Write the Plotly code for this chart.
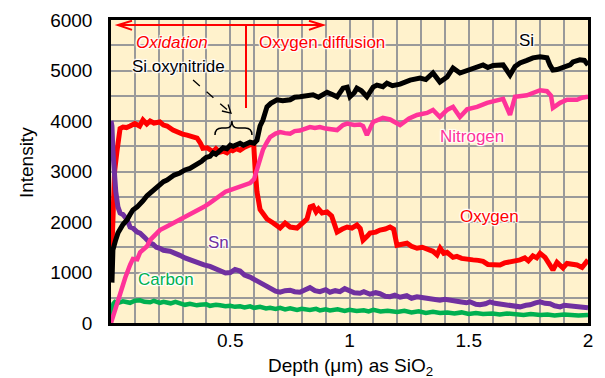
import plotly.graph_objects as go

# ---------------- data ----------------
si_x = [0.004, 0.008, 0.02, 0.029, 0.05, 0.067, 0.08, 0.092, 0.11, 0.122, 0.134, 0.151, 0.164, 0.176, 0.19, 0.205,
        0.22, 0.235, 0.25, 0.265, 0.289, 0.31, 0.331, 0.344, 0.36, 0.38, 0.386, 0.40, 0.415, 0.428, 0.44, 0.457,
        0.47, 0.486, 0.5, 0.512, 0.53, 0.541, 0.555, 0.57, 0.583, 0.6, 0.612, 0.625, 0.637, 0.654, 0.67, 0.696,
        0.72, 0.751, 0.77, 0.792, 0.82, 0.847, 0.87, 0.906, 0.93, 0.948, 0.973, 0.99, 1.002, 1.02, 1.031, 1.05,
        1.073, 1.099, 1.115, 1.14, 1.157, 1.18, 1.212, 1.254, 1.296, 1.32, 1.35, 1.379, 1.409, 1.434, 1.463, 1.49,
        1.518, 1.56, 1.58, 1.602, 1.644, 1.673, 1.694, 1.715, 1.744, 1.769, 1.799, 1.828, 1.841, 1.853, 1.87, 1.895,
        1.925, 1.937, 1.966, 1.985, 2.0]
si_y = [800, 1450, 1650, 1780, 1950, 2040, 2150, 2240, 2300, 2380, 2420, 2520, 2570, 2620, 2700, 2730,
        2800, 2830, 2880, 2930, 2970, 3030, 3060, 3090, 3150, 3200, 3230, 3280, 3300, 3370, 3340, 3420,
        3470, 3450, 3520, 3500, 3540, 3560, 3520, 3560, 3580, 3560, 3620, 3900, 4020, 4280, 4350, 4420,
        4400, 4420, 4470, 4480, 4500, 4520, 4470, 4570, 4520, 4480, 4650, 4670, 4480, 4560, 4650, 4600,
        4480, 4670, 4710, 4680, 4750, 4700, 4730, 4810, 4850, 4820, 4950, 4770, 4870, 5050, 4950, 5000,
        5050, 5110, 5060, 5100, 5110, 4910, 5080, 5150, 5200, 5250, 5270, 5250, 5100, 5010, 5020, 5070,
        5110, 5170, 5210, 5200, 5110]

n_x = [0.0, 0.004, 0.017, 0.038, 0.06, 0.08, 0.092, 0.11, 0.122, 0.151, 0.164, 0.176, 0.205, 0.23, 0.247, 0.27,
       0.289, 0.31, 0.331, 0.35, 0.373, 0.39, 0.415, 0.44, 0.457, 0.48, 0.499, 0.52, 0.541, 0.56, 0.583, 0.6,
       0.612, 0.625, 0.637, 0.654, 0.667, 0.69, 0.709, 0.73, 0.751, 0.77, 0.792, 0.822, 0.834, 0.855, 0.876, 0.9,
       0.918, 0.948, 0.973, 0.99, 1.02, 1.044, 1.057, 1.073, 1.099, 1.14, 1.17, 1.212, 1.25, 1.283, 1.325, 1.35,
       1.379, 1.409, 1.434, 1.463, 1.493, 1.535, 1.577, 1.618, 1.644, 1.673, 1.694, 1.744, 1.799, 1.828, 1.845,
       1.853, 1.883, 1.912, 1.954, 1.975, 2.0]
n_y = [0, 60, 300, 620, 900, 1150, 1270, 1260, 1400, 1520, 1640, 1700, 1840, 1900, 1940, 2000,
       2040, 2100, 2140, 2200, 2240, 2300, 2380, 2460, 2530, 2600, 2630, 2660, 2690, 2720, 2770, 2850,
       3030, 3250, 3430, 3580, 3680, 3750, 3780, 3760, 3750, 3800, 3810, 3860, 3880, 3860, 3880, 3850,
       3840, 3820, 3920, 3950, 3920, 3930, 3900, 3720, 3980, 4060, 4030, 3920, 4050, 4120, 4160, 4220,
       4080, 4220, 4280, 4080, 4230, 4280, 4360, 4420, 4440, 4120, 4480, 4510, 4610, 4590, 4500,
       4260, 4360, 4420, 4420, 4460, 4480]

o_x = [0.004, 0.008, 0.015, 0.025, 0.038, 0.05, 0.065, 0.08, 0.1, 0.12, 0.134, 0.15, 0.164, 0.18, 0.205, 0.22,
       0.235, 0.26, 0.277, 0.3, 0.319, 0.34, 0.361, 0.375, 0.385, 0.403, 0.415, 0.428, 0.44, 0.455, 0.47, 0.486,
       0.5, 0.51, 0.525, 0.541, 0.56, 0.583, 0.598, 0.605, 0.612, 0.625, 0.64, 0.654, 0.68, 0.709, 0.73, 0.751,
       0.78, 0.8, 0.822, 0.835, 0.847, 0.86, 0.87, 0.885, 0.906, 0.925, 0.948, 0.97, 0.99, 1.01, 1.031, 1.045,
       1.057, 1.075, 1.086, 1.11, 1.128, 1.15, 1.17, 1.185, 1.199, 1.22, 1.241, 1.26, 1.283, 1.305, 1.325, 1.35,
       1.367, 1.38, 1.395, 1.409, 1.434, 1.45, 1.47, 1.49, 1.518, 1.54, 1.56, 1.58, 1.6, 1.631, 1.65, 1.673,
       1.695, 1.715, 1.735, 1.75, 1.769, 1.785, 1.799, 1.82, 1.84, 1.853, 1.87, 1.885, 1.895, 1.912, 1.93, 1.954,
       1.975, 2.0]
o_y = [1480, 2500, 3000, 3400, 3850, 3880, 3870, 3900, 3950, 3900, 4020, 3940, 4000, 3960, 3980, 3920,
       3900, 3820, 3780, 3740, 3720, 3690, 3660, 3560, 3460, 3470, 3420, 3390, 3450, 3380, 3400, 3370,
       3430, 3410, 3450, 3420, 3480, 3520, 3560, 3000, 2600, 2250, 2150, 2060, 1980, 1880, 1980, 1900,
       1880, 1960, 2060, 2300, 2320, 2200, 2260, 2180, 2200, 2120, 1800, 1860, 1900, 1880, 1940, 1870,
       1640, 1720, 1780, 1800, 1840, 1860, 1900, 1860, 1540, 1560, 1580, 1520, 1480, 1500, 1470, 1420,
       1350, 1480, 1380, 1400, 1300, 1320, 1280, 1260, 1250, 1240, 1220, 1160, 1150, 1150, 1190, 1210,
       1240, 1250, 1290, 1230, 1330, 1290, 1380, 1300, 1150, 1050, 1200, 1150, 1090, 1180, 1160, 1150,
       1100, 1250]

sn_x = [0.0, 0.004, 0.008, 0.013, 0.02, 0.029, 0.038, 0.05, 0.067, 0.08, 0.092, 0.11, 0.122, 0.14, 0.151, 0.164,
        0.176, 0.19, 0.205, 0.22, 0.247, 0.27, 0.289, 0.31, 0.331, 0.35, 0.373, 0.39, 0.415, 0.43, 0.46, 0.48,
        0.5, 0.52, 0.541, 0.56, 0.583, 0.6, 0.625, 0.645, 0.667, 0.69, 0.709, 0.73, 0.751, 0.77, 0.792, 0.81,
        0.834, 0.855, 0.876, 0.9, 0.918, 0.94, 0.96, 0.98, 1.002, 1.02, 1.044, 1.06, 1.086, 1.11, 1.128, 1.15,
        1.17, 1.19, 1.212, 1.24, 1.26, 1.283, 1.31, 1.35, 1.379, 1.40, 1.421, 1.44, 1.463, 1.49, 1.505, 1.53,
        1.547, 1.57, 1.589, 1.61, 1.631, 1.65, 1.673, 1.69, 1.715, 1.74, 1.757, 1.78, 1.799, 1.82, 1.841, 1.86,
        1.883, 1.9, 1.925, 1.95, 1.966, 1.985, 2.0]
sn_y = [4000, 3900, 3400, 2900, 2600, 2300, 2180, 2150, 2050, 1900, 1880, 1800, 1780, 1700, 1640, 1580,
        1560, 1500, 1480, 1440, 1420, 1390, 1340, 1290, 1250, 1210, 1180, 1150, 1120, 1090, 1050, 990,
        1000, 1060, 1030, 950, 910, 860, 790, 730, 690, 630, 610, 640, 650, 620, 610, 650,
        700, 640, 620, 660, 610, 640, 620, 680, 630, 600, 590, 620, 570, 600, 580, 530,
        520, 550, 510, 540, 490, 520, 500, 480, 450, 470, 450, 420, 420, 400, 420, 370,
        360, 380, 420, 390, 380, 350, 360, 330, 320, 350, 360, 400, 420, 390, 380, 340,
        320, 350, 340, 310, 320, 300, 300]

c_x = [0.0, 0.004, 0.01, 0.017, 0.03, 0.05, 0.067, 0.08, 0.1, 0.122, 0.14, 0.164, 0.18, 0.205, 0.22, 0.25,
       0.27, 0.289, 0.31, 0.331, 0.36, 0.373, 0.40, 0.415, 0.44, 0.457, 0.48, 0.5, 0.52, 0.541, 0.56, 0.583,
       0.6, 0.625, 0.65, 0.667, 0.69, 0.709, 0.73, 0.751, 0.78, 0.8, 0.834, 0.86, 0.876, 0.9, 0.918, 0.95,
       0.98, 1.0, 1.03, 1.06, 1.08, 1.1, 1.13, 1.16, 1.2, 1.23, 1.26, 1.29, 1.32, 1.35, 1.38, 1.41,
       1.44, 1.47, 1.5, 1.53, 1.56, 1.6, 1.63, 1.66, 1.7, 1.73, 1.76, 1.8, 1.83, 1.86, 1.9, 1.93,
       1.96, 2.0]
c_y = [100, 200, 380, 420, 400, 430, 420, 400, 440, 450, 420, 410, 440, 400, 420, 390,
       420, 380, 360, 380, 350, 360, 370, 340, 360, 350, 330, 340, 320, 330, 310, 330,
       300, 320, 290, 300, 280, 300, 270, 290, 260, 280, 260, 280, 250, 270, 250, 270,
       240, 260, 240, 250, 230, 260, 230, 240, 220, 240, 210, 230, 200, 220, 200, 210,
       190, 210, 180, 200, 180, 190, 170, 190, 170, 160, 180, 160, 170, 150, 170, 160,
       150, 160]

x_tickvals = [0.5, 1, 1.5, 2]
x_ticktext = ["0.5", "1", "1.5", "2"]
y_tickvals = [0, 1000, 2000, 3000, 4000, 5000, 6000]

# ---------------- styles ----------------
FONT = "Liberation Sans, Arial, sans-serif"
HALO = "1px 1px 1px white, -1px -1px 1px white, 1px -1px 1px white, -1px 1px 1px white, 0px 0px 3px white"
GRID = "#9a9a9a"

# the page body has an 8px margin, so the figure is drawn 8px smaller/offset
W, H = 597, 370
L, R, T, B = 103, 17, 12, 55

fig = go.Figure()
fig.add_trace(go.Scatter(x=o_x, y=o_y, mode="lines", line=dict(color="#FF0000", width=5), name="Oxygen"))
fig.add_trace(go.Scatter(x=c_x, y=c_y, mode="lines", line=dict(color="#00B050", width=4.5), name="Carbon"))
fig.add_trace(go.Scatter(x=sn_x, y=sn_y, mode="lines", line=dict(color="#7030A0", width=5), name="Sn"))
fig.add_trace(go.Scatter(x=n_x, y=n_y, mode="lines", line=dict(color="#FF3399", width=4.5), name="Nitrogen"))
fig.add_trace(go.Scatter(x=si_x, y=si_y, mode="lines", line=dict(color="#000000", width=5), name="Si"))


def label(text, x, y, color, size=17, italic=False):
    fig.add_annotation(x=x, y=y, xref="x", yref="y", text=text, showarrow=False,
                       xanchor="center", yanchor="middle",
                       font=dict(family=FONT, size=size, color=color, shadow=HALO,
                                 style="italic" if italic else "normal"))


label("Si", 1.744, 5600, "black")
label("Nitrogen", 1.514, 3700, "#FF3399")
label("Oxygen", 1.585, 2100, "#FF0000")
label("Sn", 0.449, 1590, "#7030A0")
label("Carbon", 0.231, 870, "#00B050")
label("Oxidation", 0.254, 5545, "#FF0000", italic=True)
label("Oxygen diffusion", 0.885, 5545, "#FF0000")
label("Si oxynitride", 0.285, 5070, "black")

# red double arrow + divider
red = dict(color="#FF0000", width=2)
fig.add_shape(type="line", x0=0.029, y0=5900, x1=0.889, y1=5900, xref="x", yref="y", line=red)
fig.add_shape(type="path", path="M 0.088,5985 L 0.029,5900 L 0.088,5805", xref="x", yref="y", line=red)
fig.add_shape(type="path", path="M 0.830,5985 L 0.889,5900 L 0.830,5805", xref="x", yref="y", line=red)
fig.add_shape(type="line", x0=0.566, y0=5900, x1=0.566, y1=4257, xref="x", yref="y", line=red)

# dashed arrow to brace
blk = dict(color="black", width=1.3)
fig.add_shape(type="line", x0=0.344, y0=4811, x1=0.503, y1=4158, xref="x", yref="y",
              line=dict(color="black", width=1.3, dash="dash"))
fig.add_shape(type="path", path="M 0.491,4326 L 0.503,4158 L 0.465,4198", xref="x", yref="y", line=blk)
# brace
fig.add_shape(type="path",
              path="M 0.436,3722 Q 0.436,3861 0.465,3861 L 0.482,3861 Q 0.507,3861 0.507,4000 "
                   "Q 0.507,3861 0.532,3861 L 0.562,3861 Q 0.591,3861 0.591,3722",
              xref="x", yref="y", line=dict(color="black", width=1.5))
# small thick segment on the top frame (as in the reference)
fig.add_shape(type="line", x0=1.633, x1=1.855, y0=1.006, y1=1.006, xref="x", yref="paper",
              line=dict(color="black", width=2))

# axis titles (placed as annotations, paper coordinates)
fig.add_annotation(x=-0.178, y=0.528, xref="paper", yref="paper", text="Intensity", showarrow=False,
                   xanchor="center", yanchor="middle",
                   textangle=-90, font=dict(family=FONT, size=19, color="black"))
fig.add_annotation(x=0.503, y=-0.145, xref="paper", yref="paper", text="Depth (μm) as SiO<sub>2</sub>",
                   xanchor="center", yanchor="middle",
                   showarrow=False, font=dict(family=FONT, size=19, color="black"))

fig.update_layout(
    width=W, height=H,
    margin=dict(l=L, r=R, t=T, b=B, autoexpand=False),
    paper_bgcolor="white",
    plot_bgcolor="#FFF2CC",
    showlegend=False,
    font=dict(family=FONT, size=19, color="black"),
)
fig.update_xaxes(range=[0, 2], tickmode="array", tickvals=x_tickvals, ticktext=x_ticktext,
                 showgrid=True, gridcolor=GRID, gridwidth=1.7,
                 minor=dict(tickmode="linear", tick0=0, dtick=0.1, showgrid=True, gridcolor=GRID, gridwidth=1.7),
                 showline=True, linecolor="black", linewidth=2.5, mirror=True,
                 ticks="", ticklen=0, ticklabelstandoff=-2, zeroline=False, automargin=False,
                 tickfont=dict(family=FONT, size=19, color="black"))
fig.update_yaxes(range=[0, 6000], tickmode="array", tickvals=y_tickvals,
                 showgrid=True, gridcolor=GRID, gridwidth=1.7,
                 minor=dict(tickmode="linear", tick0=0, dtick=500, showgrid=True, gridcolor=GRID, gridwidth=1.7),
                 showline=True, linecolor="black", linewidth=2.5, mirror=True,
                 ticks="", ticklen=0, ticklabelstandoff=12, zeroline=False, automargin=False,
                 tickfont=dict(family=FONT, size=19, color="black"))

fig.write_html("out.html")
